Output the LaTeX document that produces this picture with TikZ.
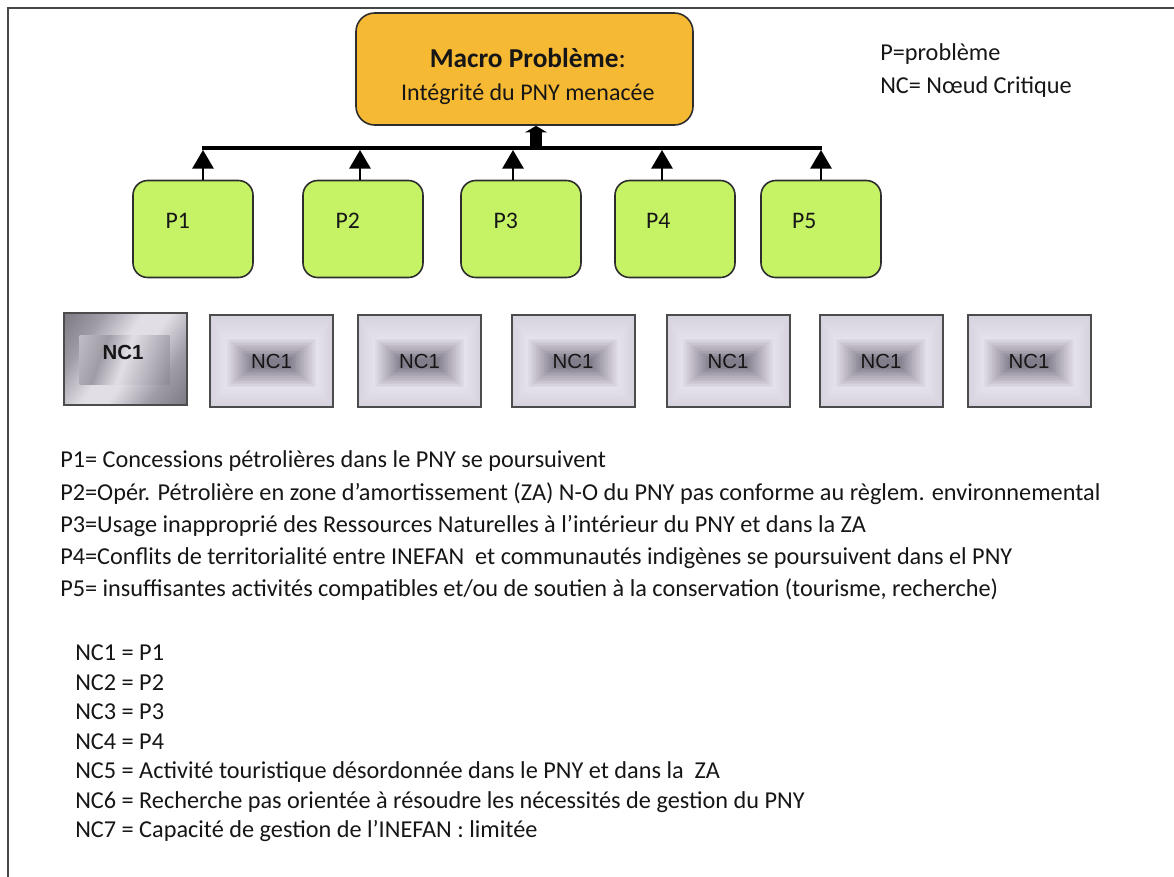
\documentclass[tikz,border=0pt]{standalone}
\usepackage{fontspec}
\setmainfont{Carlito}
\newfontfamily\arialf{Liberation Sans}
\usetikzlibrary{arrows.meta,calc}
\definecolor{orangebox}{RGB}{246,185,52}
\definecolor{greenbox}{RGB}{198,242,102}
\definecolor{edgegray}{RGB}{45,45,45}
\definecolor{lavA}{RGB}{214,210,222}
\definecolor{lavB}{RGB}{229,225,235}
\definecolor{lavCore}{RGB}{130,125,138}
\definecolor{txt}{RGB}{22,22,22}
\definecolor{framecol}{RGB}{70,70,70}
\definecolor{mLight}{RGB}{226,222,230}
\definecolor{mMid}{RGB}{160,156,166}
\definecolor{mDark}{RGB}{90,86,96}
\pgfdeclarehorizontalshading{metalA}{100bp}{color(0bp)=(mDark); color(30bp)=(mMid); color(45bp)=(mLight); color(55bp)=(mLight); color(70bp)=(mMid); color(100bp)=(mDark)}
\pgfdeclarehorizontalshading{metalB}{100bp}{color(0bp)=(mLight); color(35bp)=(mMid); color(50bp)=(mLight); color(75bp)=(mMid); color(100bp)=(mDark)}
\begin{document}
\begin{tikzpicture}[x=0.75pt,y=-0.75pt,
  macrobox/.style={draw=edgegray,line width=1.2pt,fill=orangebox,rounded corners=14pt,
    minimum width=252.75pt,minimum height=84pt,inner sep=0pt},
  pbox/.style={draw=edgegray,line width=1.2pt,fill=greenbox,rounded corners=11pt,
    minimum width=90pt,minimum height=72.75pt,inner sep=0pt},
  plabel/.style={font=\fontsize{17.8}{20}\selectfont,text=txt,inner sep=0pt,
    text height=1.5ex,text depth=0.25ex},
  upar/.style={draw=black,line width=1.5pt,-{Triangle[width=16pt,length=14pt]}},
  barline/.style={draw=black,line width=3pt},
  macroarr/.style={draw=black,line width=9pt,-{Triangle[width=16.5pt,length=5pt]}},
  ncbase/.style={draw=edgegray!85,line width=1.5pt,minimum width=92.25pt,minimum height=69pt,
    inner sep=0pt,text=txt,font=\arialf\fontsize{15.3}{18}\selectfont},
  ncbox/.style={ncbase,
    path picture={
      \foreach \k in {0,...,10}{
        \pgfmathsetmacro\p{\k*10}
        \pgfmathsetmacro\w{46.125-\k*(46.125-35.25)/10}
        \pgfmathsetmacro\h{34.5-\k*(34.5-19.5)/10}
        \pgfmathsetmacro\dy{-\k*0.15}
        \fill[lavB!\p!lavA] ([shift={(-\w pt,\dy pt-\h pt)}]path picture bounding box.center)
          rectangle ([shift={(\w pt,\dy pt+\h pt)}]path picture bounding box.center);
      }
      \foreach \k in {0,...,14}{
        \pgfmathsetmacro\p{\k*100/14}
        \pgfmathsetmacro\w{35.25-\k*(35.25-14)/14}
        \pgfmathsetmacro\h{19.5-\k*(19.5-3)/14}
        \fill[lavCore!\p!lavB] ([shift={(-\w pt,-1.5pt-\h pt)}]path picture bounding box.center)
          rectangle ([shift={(\w pt,-1.5pt+\h pt)}]path picture bounding box.center);
      }
    }},
  ncfirst/.style={ncbase,
    path picture={
      \shade[shading=metalA,shading angle=-35] (path picture bounding box.south west) rectangle (path picture bounding box.north east);
      \shade[shading=metalB,shading angle=-20] ([shift={(-34pt,-19pt)}]path picture bounding box.center)
        rectangle ([shift={(33.5pt,17.5pt)}]path picture bounding box.center);
    }},
  txtline/.style={anchor=west,inner sep=0pt,text=txt,font=\fontsize{18.2}{21}\selectfont,
    text height=1.5ex,text depth=0.25ex}
]
\useasboundingbox (0,0) rectangle (1174,876);
% frame
\draw[framecol,line width=1.5pt] (8,880) -- (8,8) -- (1180,8);

% macro problem
\node[macrobox,label={[font=\fontsize{18}{21}\selectfont,align=center,text=txt,yshift=-5.5pt,xshift=2.5pt]center:{\fontsize{20.5}{23}\selectfont\textbf{Macro Problème}:}\\[3.5pt]Intégrité du PNY menacée}] (macro) at (524.5,69) {};

% P boxes
\node[pbox,label={[plabel,xshift=-11.5pt,yshift=3.5pt]center:P1}] (p1) at (193,229) {};
\node[pbox,label={[plabel,xshift=-11.5pt,yshift=3.5pt]center:P2}] (p2) at (363,229) {};
\node[pbox,label={[plabel,xshift=-11.5pt,yshift=3.5pt]center:P3}] (p3) at (521,229) {};
\node[pbox,label={[plabel,xshift=-12.5pt,yshift=3.5pt]center:P4}] (p4) at (675,229) {};
\node[pbox,label={[plabel,xshift=-12.5pt,yshift=3.5pt]center:P5}] (p5) at (821,229) {};

% bar coordinates
\coordinate (b1) at (203,150);
\coordinate (b2) at (360,150);
\coordinate (b3) at (513,150);
\coordinate (b4) at (662,150);
\coordinate (b5) at (821,150);
\coordinate (bl) at (202,148);
\coordinate (br) at (822,148);
\coordinate (m) at (536,147);

\draw[upar] (b1 |- p1.north) -- (b1);
\draw[upar] (b2 |- p2.north) -- (b2);
\draw[upar] (b3 |- p3.north) -- (b3);
\draw[upar] (b4 |- p4.north) -- (b4);
\draw[upar] (b5 |- p5.north) -- (b5);
\draw[barline] (bl) -- (br);
\draw[macroarr] (m) -- (m |- macro.south);

% NC boxes
\node[ncfirst,label={[font=\arialf\bfseries\fontsize{15.3}{18}\selectfont,text=txt,yshift=5pt,xshift=-1.5pt]center:NC1}] (nc1) at (125,359) {};
\node[ncbox] (nc2) at (271.5,361) {NC1};
\node[ncbox] (nc3) at (419.5,361) {NC1};
\node[ncbox] (nc4) at (573,361) {NC1};
\node[ncbox] (nc5) at (728,361) {NC1};
\node[ncbox] (nc6) at (881,361) {NC1};
\node[ncbox] (nc7) at (1029,361) {NC1};

% legend
\node[txtline] (leg1) at (880,57) {P=problème};
\node[txtline] (leg2) at (880,90) {NC= Nœud Critique};

% P descriptions
\node[txtline] (t1) at (60,464) {P1= Concessions pétrolières dans le PNY se poursuivent};
\node[txtline] (t2) at (60,496.5) {P2=Opér. Pétrolière en zone d’amortissement (ZA) N-O du PNY pas conforme au règlem. environnemental};
\node[txtline] (t3) at (60,528.5) {P3=Usage inapproprié des Ressources Naturelles à l’intérieur du PNY et dans la ZA};
\node[txtline] (t4) at (60,560.5) {P4=Conflits de territorialité entre INEFAN~ et communautés indigènes se poursuivent dans el PNY};
\node[txtline] (t5) at (60,592.5) {P5= insuffisantes activités compatibles et/ou de soutien à la conservation (tourisme, recherche)};

% NC descriptions
\node[txtline] (n1) at (75,657) {NC1 = P1};
\node[txtline] (n2) at (75,686.5) {NC2 = P2};
\node[txtline] (n3) at (75,716) {NC3 = P3};
\node[txtline] (n4) at (75,745.5) {NC4 = P4};
\node[txtline] (n5) at (75,775) {NC5 = Activité touristique désordonnée dans le PNY et dans la~ ZA};
\node[txtline] (n6) at (75,804.5) {NC6 = Recherche pas orientée à résoudre les nécessités de gestion du PNY};
\node[txtline] (n7) at (75,834) {NC7 = Capacité de gestion de l’INEFAN : limitée};
\end{tikzpicture}
\end{document}
